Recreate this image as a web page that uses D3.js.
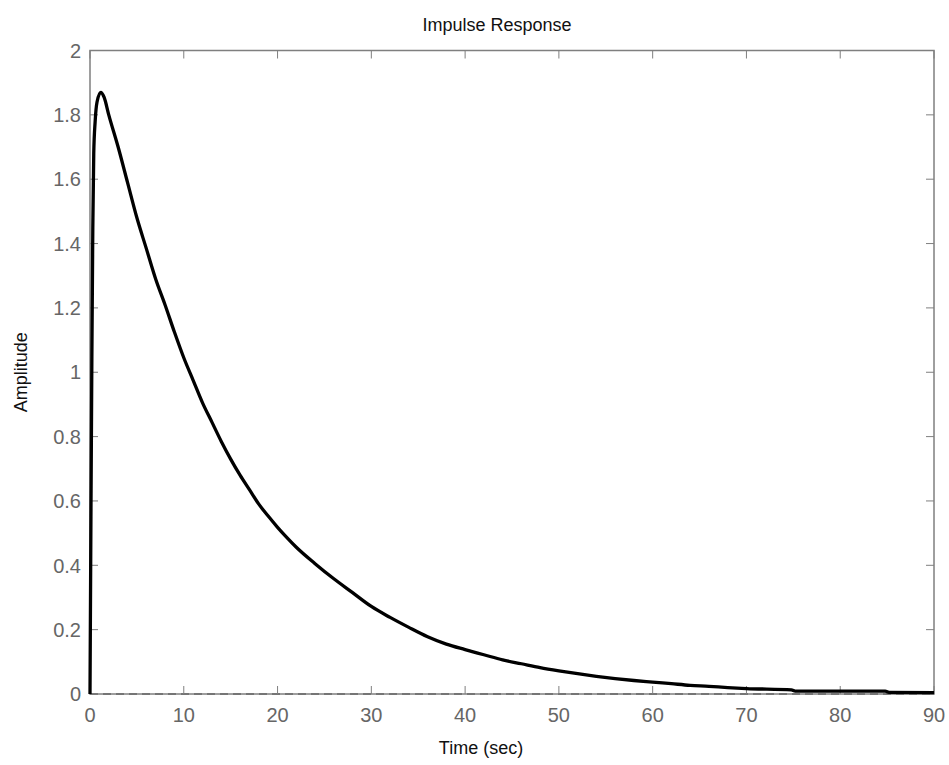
<!DOCTYPE html>
<html><head><meta charset="utf-8">
<script src="https://cdn.jsdelivr.net/npm/d3@7"></script>
<style>body{margin:0;background:#fff}svg{display:block}text{font-family:"Liberation Sans",Arial,sans-serif}</style>
</head><body>
<script>
const timeSec = [0,0.1,0.2,0.3,0.4,0.55,0.75,1.15,1.5,2,3,4,5,6,7,8,9,10,11,12,13,14,15,16,17,18,19,20,21,22,24,26,28,30,32,34,36,38,40,42,44,46,48,50,52,54,56,58,60,62,64,66,68,70,74.8,75.2,84.8,85.2,90];
const amplitude = [0,0.55,1.05,1.45,1.68,1.78,1.84,1.87,1.855,1.80,1.70,1.59,1.48,1.385,1.29,1.21,1.125,1.045,0.975,0.905,0.845,0.785,0.73,0.68,0.635,0.59,0.553,0.518,0.486,0.456,0.405,0.358,0.315,0.272,0.238,0.207,0.178,0.155,0.138,0.122,0.106,0.094,0.082,0.072,0.063,0.055,0.048,0.042,0.037,0.032,0.027,0.024,0.02,0.017,0.013,0.009,0.009,0.005,0.004];
const xTicks = [0,10,20,30,40,50,60,70,80,90];
const yTicks = [0,0.2,0.4,0.6,0.8,1,1.2,1.4,1.6,1.8,2];
const yTickLabels = ["0","0.2","0.4","0.6","0.8","1","1.2","1.4","1.6","1.8","2"];
const title = "Impulse Response", xLabel = "Time (sec)", yLabel = "Amplitude";

const W=949,H=765, m={l:90,t:50.5,r:934,b:694};
const svg=d3.select("body").append("svg").attr("width",W).attr("height",H);
const x=d3.scaleLinear().domain([0,90]).range([m.l,m.r]);
const y=d3.scaleLinear().domain([0,2]).range([m.b,m.t]);
const grey="#7f7f7f", lab="#666666";

svg.append("line").attr("x1",x(0)).attr("x2",x(90)).attr("y1",y(0)).attr("y2",y(0))
  .attr("stroke","#222").attr("stroke-width",1.5).attr("stroke-dasharray","8,5");

svg.append("rect").attr("x",m.l).attr("y",m.t).attr("width",m.r-m.l).attr("height",m.b-m.t)
  .attr("fill","none").attr("stroke",grey).attr("stroke-width",1.5);

const tl=8;
const gx=svg.append("g");
xTicks.forEach(v=>{
  gx.append("line").attr("x1",x(v)).attr("x2",x(v)).attr("y1",y(0)).attr("y2",y(0)-tl).attr("stroke",grey);
  gx.append("line").attr("x1",x(v)).attr("x2",x(v)).attr("y1",y(2)).attr("y2",y(2)+tl).attr("stroke",grey);
  gx.append("text").attr("x",x(v)).attr("y",722).attr("text-anchor","middle").attr("font-size",20).attr("fill",lab).text(v);
});
yTicks.forEach((v,i)=>{
  gx.append("line").attr("x1",x(0)).attr("x2",x(0)+tl).attr("y1",y(v)).attr("y2",y(v)).attr("stroke",grey);
  gx.append("line").attr("x1",x(90)).attr("x2",x(90)-tl).attr("y1",y(v)).attr("y2",y(v)).attr("stroke",grey);
  gx.append("text").attr("x",81).attr("y",y(v)).attr("dy","0.36em").attr("text-anchor","end").attr("font-size",20).attr("fill",lab).text(yTickLabels[i]);
});

const data=timeSec.map((t,i)=>[t,amplitude[i]]);
svg.append("path").datum(data).attr("fill","none").attr("stroke","#000").attr("stroke-width",3.3)
  .attr("stroke-linejoin","round")
  .attr("d",d3.line().curve(d3.curveMonotoneX).x(d=>x(d[0])).y(d=>y(d[1])));

svg.append("text").attr("x",497).attr("y",31).attr("text-anchor","middle").attr("font-size",18).attr("fill","#111").text(title);
svg.append("text").attr("x",481).attr("y",754).attr("text-anchor","middle").attr("font-size",18).attr("fill","#111").text(xLabel);
svg.append("text").attr("transform","translate(27,"+((m.t+m.b)/2)+") rotate(-90)").attr("text-anchor","middle").attr("font-size",18).attr("fill","#111").text(yLabel);
</script>
</body></html>
